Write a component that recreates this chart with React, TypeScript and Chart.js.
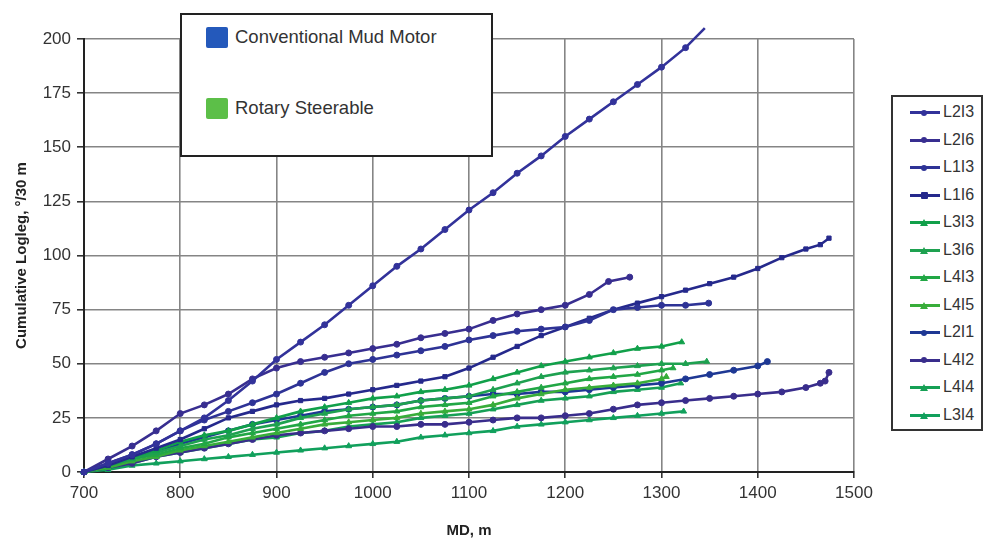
import React, { useEffect, useRef } from "react";
import { Chart, registerables } from "chart.js";
Chart.register(...registerables);

// ---- Data (MD in m, cumulative dogleg in deg/30 m) ----
const mdTicks = [700, 800, 900, 1000, 1100, 1200, 1300, 1400, 1500];
const logTicks = [0, 25, 50, 75, 100, 125, 150, 175, 200];

const L2I3: [number, number][] = [[700,0],[725,4],[750,8],[775,13],[800,19],[825,25],[850,33],[875,42],[900,52],[925,60],[950,68],[975,77],[1000,86],[1025,95],[1050,103],[1075,112],[1100,121],[1125,129],[1150,138],[1175,146],[1200,155],[1225,163],[1250,171],[1275,179],[1300,187],[1325,196],[1345,205]];
const L2I6: [number, number][] = [[700,0],[725,6],[750,12],[775,19],[800,27],[825,31],[850,36],[875,43],[900,48],[925,51],[950,53],[975,55],[1000,57],[1025,59],[1050,62],[1075,64],[1100,66],[1125,70],[1150,73],[1175,75],[1200,77],[1225,82],[1245,88],[1267,90]];
const L1I3: [number, number][] = [[700,0],[725,4],[750,8],[775,13],[800,19],[825,24],[850,28],[875,32],[900,36],[925,41],[950,46],[975,50],[1000,52],[1025,54],[1050,56],[1075,58],[1100,61],[1125,63],[1150,65],[1175,66],[1200,67],[1225,70],[1250,75],[1275,76],[1300,77],[1325,77],[1349,78]];
const L1I6: [number, number][] = [[700,0],[725,3],[750,7],[775,11],[800,15],[825,20],[850,25],[875,28],[900,31],[925,33],[950,34],[975,36],[1000,38],[1025,40],[1050,42],[1075,44],[1100,48],[1125,53],[1150,58],[1175,63],[1200,67],[1225,71],[1250,75],[1275,78],[1300,81],[1325,84],[1350,87],[1375,90],[1400,94],[1425,99],[1450,103],[1465,105],[1474,108]];
const L3I3: [number, number][] = [[700,0],[725,3],[750,7],[775,10],[800,14],[825,17],[850,19],[875,22],[900,25],[925,28],[950,30],[975,32],[1000,34],[1025,35],[1050,37],[1075,38],[1100,40],[1125,43],[1150,46],[1175,49],[1200,51],[1225,53],[1250,55],[1275,57],[1300,58],[1321,60]];
const L3I6: [number, number][] = [[700,0],[725,3],[750,6],[775,9],[800,12],[825,15],[850,17],[875,20],[900,22],[925,25],[950,27],[975,29],[1000,30],[1025,31],[1050,33],[1075,34],[1100,35],[1125,38],[1150,41],[1175,44],[1200,46],[1225,47],[1250,48],[1275,49],[1300,50],[1325,50],[1347,51]];
const L4I3: [number, number][] = [[700,0],[725,3],[750,6],[775,8],[800,11],[825,13],[850,16],[875,18],[900,20],[925,22],[950,24],[975,26],[1000,27],[1025,28],[1050,30],[1075,31],[1100,32],[1125,35],[1150,37],[1175,39],[1200,41],[1225,43],[1250,44],[1275,45],[1300,47],[1312,48]];
const L4I5: [number, number][] = [[700,0],[725,2],[750,5],[775,7],[800,10],[825,12],[850,14],[875,16],[900,18],[925,20],[950,22],[975,23],[1000,24],[1025,25],[1050,27],[1075,28],[1100,29],[1125,31],[1150,34],[1175,36],[1200,38],[1225,39],[1250,40],[1275,41],[1300,43],[1305,44]];
const L2I1: [number, number][] = [[700,0],[725,3],[750,6],[775,9],[800,13],[825,16],[850,19],[875,22],[900,24],[925,26],[950,28],[975,29],[1000,30],[1025,31],[1050,33],[1075,34],[1100,35],[1125,36],[1150,36],[1175,37],[1200,37],[1225,38],[1250,39],[1275,40],[1300,41],[1325,43],[1350,45],[1375,47],[1400,49],[1410,51]];
const L4I2: [number, number][] = [[700,0],[725,2],[750,4],[775,7],[800,9],[825,11],[850,13],[875,15],[900,17],[925,18],[950,19],[975,20],[1000,21],[1025,21],[1050,22],[1075,22],[1100,23],[1125,24],[1150,25],[1175,25],[1200,26],[1225,27],[1250,29],[1275,31],[1300,32],[1325,33],[1350,34],[1375,35],[1400,36],[1425,37],[1450,39],[1465,41],[1470,42],[1474,46]];
const L4I4: [number, number][] = [[700,0],[725,2],[750,4],[775,7],[800,9],[825,11],[850,13],[875,15],[900,16],[925,18],[950,19],[975,21],[1000,22],[1025,23],[1050,25],[1075,26],[1100,27],[1125,29],[1150,31],[1175,33],[1200,34],[1225,35],[1250,37],[1275,38],[1300,39],[1320,41]];
const L3I4: [number, number][] = [[700,0],[725,1],[750,3],[775,4],[800,5],[825,6],[850,7],[875,8],[900,9],[925,10],[950,11],[975,12],[1000,13],[1025,14],[1050,16],[1075,17],[1100,18],[1125,19],[1150,21],[1175,22],[1200,23],[1225,24],[1250,25],[1275,26],[1300,27],[1323,28]];

const seriesNames = ["L2I3","L2I6","L1I3","L1I6","L3I3","L3I6","L4I3","L4I5","L2I1","L4I2","L4I4","L3I4"];
const seriesData = [L2I3, L2I6, L1I3, L1I6, L3I3, L3I6, L4I3, L4I5, L2I1, L4I2, L4I4, L3I4];
const seriesColors = ["#32329a","#382e90","#2e3396","#25298c","#11a04a","#1ea150","#21a745","#38ad3a","#1e3894","#392d8c","#16a055","#11a05c"];
const seriesMarkers = ["circle","circle","circle","rect","triangle","triangle","triangle","triangle","circle","circle","triangle","triangle"];

const groupLabels = ["Conventional Mud Motor", "Rotary Steerable"];
const groupColors = ["#2459bb", "#5cbf48"];

const FONT = "'Liberation Sans', Arial, Helvetica, sans-serif";

function Marker({ kind, color }: { kind: string; color: string }) {
  if (kind === "triangle") {
    return (
      <div style={{ position: "absolute", left: 10, top: -2, width: 0, height: 0,
        borderLeft: "4px solid transparent", borderRight: "4px solid transparent", borderBottom: `7px solid ${color}` }} />
    );
  }
  const size = kind === "rect" ? 7 : 6;
  return (
    <div style={{ position: "absolute", left: 14 - size / 2, top: 1.5 - size / 2, width: size, height: size,
      background: color, borderRadius: kind === "rect" ? 1 : "50%" }} />
  );
}

export default function App() {
  const ref = useRef<HTMLCanvasElement>(null);
  useEffect(() => {
    const ctx = ref.current!;
    const chart = new Chart(ctx, {
      type: "line",
      data: {
        datasets: seriesData.map((pts, i) => ({
          label: seriesNames[i],
          data: pts.map(([x, y]) => ({ x, y })),
          borderColor: seriesColors[i],
          backgroundColor: seriesColors[i],
          pointBackgroundColor: seriesColors[i],
          pointBorderColor: seriesColors[i],
          pointStyle: seriesMarkers[i] as any,
          pointRadius: seriesMarkers[i] === "triangle" ? 3.4 : 3,
          pointBorderWidth: 1,
          borderWidth: 2.6,
          tension: 0,
          clip: false as any,
        })),
      },
      options: {
        animation: false,
        responsive: false,
        layout: { padding: { left: 0, right: 131, top: 39, bottom: 0 } },
        plugins: { legend: { display: false }, tooltip: { enabled: false } },
        scales: {
          x: {
            type: "linear",
            min: 700,
            max: 1500,
            afterBuildTicks: (s: any) => { s.ticks = mdTicks.map((v) => ({ value: v })); },
            ticks: { color: "#333", font: { family: FONT, size: 17 }, padding: 5, callback: (v: any) => String(v) },
            grid: { color: "#858585", lineWidth: 1.6, tickColor: "#333", tickLength: 6 },
            border: { color: "#222", width: 2 },
            title: { display: true, text: "MD, m", color: "#222", font: { family: FONT, size: 15, weight: "bold" }, padding: { top: 0, bottom: 1 } },
            afterFit: (s: any) => { s.height = 69; },
          },
          y: {
            type: "linear",
            min: 0,
            max: 200,
            afterBuildTicks: (s: any) => { s.ticks = logTicks.map((v) => ({ value: v })); },
            ticks: { color: "#333", font: { family: FONT, size: 17 }, padding: 6, callback: (v: any) => String(v) },
            grid: { color: "#858585", lineWidth: 1.6, tickColor: "#333", tickLength: 7 },
            border: { color: "#222", width: 2 },
            title: { display: true, text: "Cumulative Logleg, °/30 m", color: "#222", font: { family: FONT, size: 15, weight: "bold" }, padding: { top: 13, bottom: 0 } },
            afterFit: (s: any) => { s.width = 84; },
          },
        },
      },
    });
    return () => chart.destroy();
  }, []);

  return (
    <div style={{ position: "absolute", left: 0, top: 0, width: 985, height: 541, background: "#fff", fontFamily: FONT }}>
      <canvas ref={ref} width={985} height={541} style={{ display: "block" }} />
      {/* group legend */}
      <div style={{ position: "absolute", left: 180, top: 13, width: 309, height: 140, border: "2px solid #222", background: "#fff" }}>
        {groupLabels.map((g, i) => (
          <div key={g} style={{ position: "absolute", left: 24, top: i === 0 ? 11 : 82, height: 22, display: "flex", alignItems: "center" }}>
            <div style={{ width: 22, height: 21, background: groupColors[i], borderRadius: 2 }} />
            <span style={{ marginLeft: 7, fontSize: 18.5, color: "#333", whiteSpace: "nowrap" }}>{g}</span>
          </div>
        ))}
      </div>
      {/* series legend */}
      <div style={{ position: "absolute", left: 891, top: 95, width: 88, height: 332, border: "2px solid #333", background: "#fff" }}>
        {seriesNames.map((n, i) => (
          <div key={n} style={{ position: "absolute", left: 14, top: 6 + i * 27.5, height: 18, width: 72 }}>
            <div style={{ position: "absolute", left: 3, top: 8, width: 30, height: 3 }}>
              <div style={{ position: "absolute", left: 0, top: 0, width: 30, height: 3, background: seriesColors[i] }} />
              <Marker kind={seriesMarkers[i]} color={seriesColors[i]} />
            </div>
            <span style={{ position: "absolute", left: 36, top: 0, fontSize: 16, lineHeight: "18px", color: "#333" }}>{n}</span>
          </div>
        ))}
      </div>
    </div>
  );
}
